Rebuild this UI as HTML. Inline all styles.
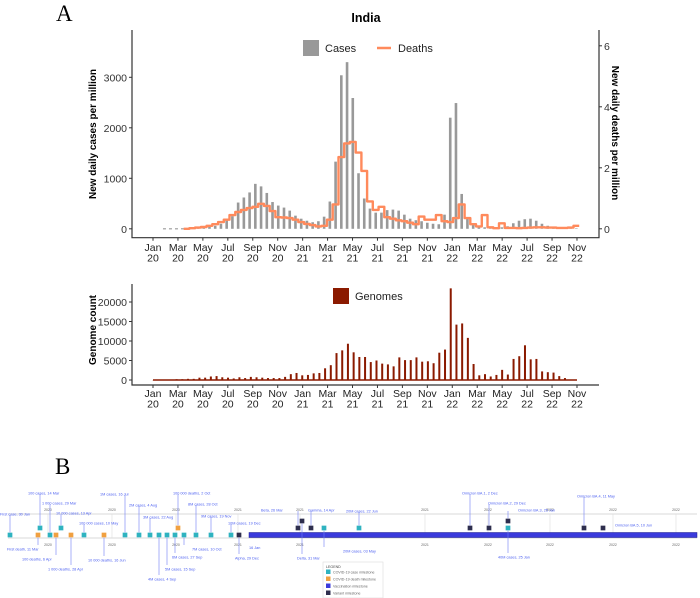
<!DOCTYPE html>
<html><head><meta charset="utf-8">
<style>
html,body{margin:0;padding:0;background:#fff;}
svg{display:block;font-family:"Liberation Sans",sans-serif;}
</style></head>
<body>
<svg id="fig" width="700" height="598" viewBox="0 0 700 598">
  <text x="56" y="21" font-family="Liberation Serif,serif" font-size="23">A</text>
  <text x="55" y="474" font-family="Liberation Serif,serif" font-size="23">B</text>
  <g id="topchart"></g>
  <g id="gen"></g>
  <g id="tl"></g>
</svg>
<script>
// ---------- data ----------
const monthLabels = ["Jan","Mar","May","Jul","Sep","Nov","Jan","Mar","May","Jul","Sep","Nov","Jan","Mar","May","Jul","Sep","Nov"];
const yearLabels = ["20","20","20","20","20","20","21","21","21","21","21","21","22","22","22","22","22","22"];
const casesTicks = [0,1000,2000,3000];
const deathsTicks = [0,2,4,6];
const genomeTicks = [0,5000,10000,15000,20000];
const cases = [2,5,10,20,40,60,100,180,250,520,620,720,890,840,710,530,460,420,360,260,200,160,130,150,240,540,1330,3040,3300,2590,1100,600,400,320,320,370,380,360,280,200,170,150,120,100,90,280,2200,2490,690,200,80,40,30,20,20,30,50,110,160,190,200,160,100,60,40,20,10,10,10];
const deaths = [0,0.02,0.04,0.06,0.1,0.15,0.22,0.3,0.45,0.55,0.62,0.68,0.72,0.82,0.75,0.58,0.38,0.37,0.35,0.3,0.22,0.16,0.12,0.08,0.1,0.3,0.8,2.35,2.8,2.85,2.5,1.9,0.9,0.62,0.72,0.38,0.33,0.28,0.25,0.2,0.15,0.4,0.3,0.3,0.45,0.25,0.22,0.35,0.8,0.35,0.15,0.08,0.45,0.05,0.02,0.18,0.03,0.03,0.02,0.03,0.04,0.05,0.05,0.04,0.04,0.03,0.03,0.04,0.1];
const genomes = [0,0,0,0,200,200,300,300,600,600,900,1000,700,600,400,700,500,800,700,600,500,500,500,800,1500,1800,1200,1300,1700,1800,3000,3800,6900,7600,9300,7100,5900,5900,4600,5000,4200,4000,3500,5800,5100,5100,5800,4700,4800,4300,7000,7800,23500,14200,14500,10800,4100,1200,1500,900,1300,2600,1400,5400,6100,8900,5300,5400,2200,2000,1900,1000,500,100];
const casesStart = 2.69, casesStep = 0.4597;
const genomeStart = 0.06, genomeStep = 0.458;

const NS="http://www.w3.org/2000/svg";
function mk(parent, tag, attrs, text){
  const e=document.createElementNS(NS,tag);
  for(const k in attrs) e.setAttribute(k,attrs[k]);
  if(text!==undefined) e.textContent=String(text);
  parent.appendChild(e); return e;
}
const xM = m => 153 + m*12.47;
const yC = v => 228.8 - v*0.0505;
const yD = v => 228.8 - v*30.5;
const yG = v => 380 - v*0.0039;
const FS = 10.5;

{
const topG=document.getElementById('topchart');
let t=mk(topG,'text',{x:366,y:22,'text-anchor':'middle','font-size':12.5,'font-weight':'bold'},'India');


let dl=mk(topG,'line',{x1:xM(0.8),x2:xM(2.6),y1:yC(0),y2:yC(0),stroke:'#999','stroke-width':1.2,'stroke-dasharray':'3 3'});


cases.forEach((v,i)=>{
  const x=xM(casesStart+i*casesStep);
  const r=mk(topG,'rect',{x:x-1.3,y:yC(v),width:2.6,height:Math.max(0.5,yC(0)-yC(v)),fill:'#999'});
  
  
});
let d='';
deaths.forEach((v,i)=>{
  const x0=xM(casesStart+(i-0.5)*casesStep), x1=xM(casesStart+(i+0.5)*casesStep), y=yD(v);
  d+=(i?'L':'M')+x0.toFixed(1)+','+y.toFixed(1)+'L'+x1.toFixed(1)+','+y.toFixed(1);
});
let p=mk(topG,'path',{d:d,fill:'none',stroke:'#ff8a5c','stroke-width':2.4,'stroke-linejoin':'round'});


let ax=mk(topG,'path',{d:'M132,30V237.7H599V30',fill:'none',stroke:'#333','stroke-width':1.2});


casesTicks.forEach(v=>{
  mk(topG,'line',{x1:129,x2:132,y1:yC(v),y2:yC(v),stroke:'#333'});
  const l=mk(topG,'text',{x:127,y:yC(v)+4,'text-anchor':'end','font-size':FS,fill:'#333'},v);
  
  
});
deathsTicks.forEach(v=>{
  mk(topG,'line',{x1:599,x2:602,y1:yD(v),y2:yD(v),stroke:'#333'});
  const l=mk(topG,'text',{x:604,y:yD(v)+4,'font-size':FS,fill:'#333'},v);
  
  
});
function xAxis(g,yAxis,ly){
  monthLabels.forEach((m,i)=>{
    const x=xM(i*2);
    mk(g,'line',{x1:x,x2:x,y1:yAxis,y2:yAxis+3,stroke:'#333'});
    const a=mk(g,'text',{x:x,y:ly,'text-anchor':'middle','font-size':FS,fill:'#222'},m);
    
    
    const b=mk(g,'text',{x:x,y:ly+10.5,'text-anchor':'middle','font-size':FS,fill:'#222'},yearLabels[i]);
    
    
  });
}
xAxis(topG,237.7,251);
t=mk(topG,'text',{transform:'translate(96,134) rotate(-90)','text-anchor':'middle','font-size':10,'font-weight':'bold'},'New daily cases per million');


t=mk(topG,'text',{transform:'translate(612,133) rotate(90)','text-anchor':'middle','font-size':10,'font-weight':'bold'},'New daily deaths per million');


let lg=mk(topG,'rect',{x:303,y:40,width:16,height:16,fill:'#999'});


t=mk(topG,'text',{x:325,y:52,'font-size':11,fill:'#222'},'Cases');


lg=mk(topG,'line',{x1:377,x2:391,y1:48,y2:48,stroke:'#ff8a5c','stroke-width':2.5});


t=mk(topG,'text',{x:398,y:52,'font-size':11,fill:'#222'},'Deaths');



// ---------- genome chart ----------
const gen=document.getElementById('gen');
let bl=mk(gen,'line',{x1:xM(0),x2:xM(34),y1:yG(0),y2:yG(0),stroke:'#8b1a00','stroke-width':1.5});


genomes.forEach((v,i)=>{
  const x=xM(genomeStart+i*genomeStep);
  const r=mk(gen,'rect',{x:x-1,y:yG(v),width:2,height:Math.max(0.5,yG(0)-yG(v)),fill:'#8b1a00'});
  
  
});
ax=mk(gen,'path',{d:'M132,284V385H599',fill:'none',stroke:'#333','stroke-width':1.2});


genomeTicks.forEach(v=>{
  mk(gen,'line',{x1:129,x2:132,y1:yG(v),y2:yG(v),stroke:'#333'});
  const l=mk(gen,'text',{x:127,y:yG(v)+4,'text-anchor':'end','font-size':FS,fill:'#333'},v);
  
  
});
xAxis(gen,385,397);
t=mk(gen,'text',{transform:'translate(96,330) rotate(-90)','text-anchor':'middle','font-size':10,'font-weight':'bold'},'Genome count');


lg=mk(gen,'rect',{x:333,y:288,width:16,height:16,fill:'#8b1a00'});


t=mk(gen,'text',{x:355,y:300,'font-size':11,fill:'#222'},'Genomes');



// ---------- timeline ----------
const tl=document.getElementById('tl');
const C={c:'#2fb3c0',d:'#f0a040',v:'#3b3bdc',n:'#2e2e4e'};
mk(tl,'line',{x1:8,x2:697,y1:514,y2:514,stroke:'#ccc','stroke-width':0.8});
mk(tl,'line',{x1:8,x2:697,y1:538,y2:538,stroke:'#ccc','stroke-width':0.8});
[[48,'2020'],[112,'2020'],[176,'2020'],[238,'2021'],[300,'2021'],[425,'2021'],[488,'2022'],[550,'2022'],[613,'2022'],[676,'2022']].forEach(a=>{
  mk(tl,'line',{x1:a[0],x2:a[0],y1:514,y2:538,stroke:'#ddd','stroke-width':0.6});
  const y1=mk(tl,'text',{x:a[0],y:511,'text-anchor':'middle','font-size':3.5,fill:'#666'},a[1]);
  
  
  const y2=mk(tl,'text',{x:a[0],y:546,'text-anchor':'middle','font-size':3.5,fill:'#666'},a[1]);
  
  
});
let vb=mk(tl,'rect',{x:249,y:532.5,width:448,height:5,fill:'#3b3bdc',stroke:'#1a1a8c','stroke-width':0.5});


t=mk(tl,'text',{x:249,y:549,'font-size':3.8,fill:'#4a5ef0'},'16 Jan');


const markers=[
 [10,535,'c',0,514,'First case, 30 Jan'],
 [38,535,'d',7,549,'First death, 11 Mar'],
 [40,528,'c',28,493,'100 cases, 14 Mar'],
 [50,535,'c',42,503,'1 000 cases, 29 Mar'],
 [56,535,'d',22,559,'100 deaths, 6 Apr'],
 [61,528,'c',56,513,'10 000 cases, 13 Apr'],
 [71,535,'d',48,569,'1 000 deaths, 28 Apr'],
 [84,535,'c',79,523,'100 000 cases, 10 May'],
 [104,535,'d',88,560,'10 000 deaths, 16 Jun'],
 [125,535,'c',100,494,'1M cases, 16 Jul'],
 [139,535,'c',129,505,'2M cases, 4 Aug'],
 [150,535,'c',143,517,'3M cases, 22 Aug'],
 [159,535,'c',148,579,'4M cases, 4 Sep'],
 [167,535,'c',165,569,'5M cases, 15 Sep'],
 [175,535,'c',172,557,'6M cases, 27 Sep'],
 [178,528,'d',173,493,'100 000 deaths, 2 Oct'],
 [184,535,'c',192,549,'7M cases, 10 Oct'],
 [196,535,'c',188,504,'8M cases, 28 Oct'],
 [211,535,'c',201,516,'9M cases, 19 Nov'],
 [231,535,'c',228,523,'10M cases, 19 Dec'],
 [239,535,'n',235,558,'Alpha, 29 Dec'],
 [298,528,'n',261,510,'Beta, 26 Mar'],
 [302,521,'n',297,558,'Delta, 31 Mar'],
 [311,528,'n',308,510,'Gamma, 14 Apr'],
 [324,528,'c',343,551,'20M cases, 03 May'],
 [359,528,'c',346,511,'20M cases, 22 Jun'],
 [470,528,'n',462,493,'Omicron BA.1, 2 Dec'],
 [489,528,'n',488,503,'Omicron BA.2, 29 Dec'],
 [508,521,'n',518,510,'Omicron BA.3, 25 Jan'],
 [508,528,'c',498,557,'40M cases, 25 Jan'],
 [584,528,'n',577,496,'Omicron BA.4, 11 May'],
 [603,528,'n',615,525,'Omicron BA.5, 10 Jun']
];
markers.forEach(m=>{
  mk(tl,'line',{x1:m[0],x2:m[0],y1:m[1],y2:m[4]<m[1]?m[4]+1:m[4]-4,stroke:'#6f7ff5','stroke-width':0.6});
  const r=mk(tl,'rect',{x:m[0]-2.5,y:m[1]-2.5,width:5,height:5,fill:C[m[2]],stroke:'#fff','stroke-width':0.3});
  
  
  const l=mk(tl,'text',{x:m[3],y:m[4]+1.5,'font-size':3.8,fill:'#4a5ef0'},m[5]);
  
  
});
let lb=mk(tl,'rect',{x:323,y:562,width:60,height:36,fill:'#fff',stroke:'#ddd','stroke-width':0.6});


t=mk(tl,'text',{x:326,y:568,'font-size':3.6,fill:'#444'},'LEGEND');


[['c','COVID-19 case milestone',572],['d','COVID-19 death milestone',579],['v','Vaccination milestone',586],['n','Variant milestone',593]].forEach(e=>{
  const s=mk(tl,'rect',{x:326,y:e[2]-2.5,width:4.5,height:4.5,fill:C[e[0]]});
  
  
  const l=mk(tl,'text',{x:333,y:e[2]+1.3,'font-size':3.6,fill:'#666'},e[1]);
  
  
});
}
</script>
</body></html>
